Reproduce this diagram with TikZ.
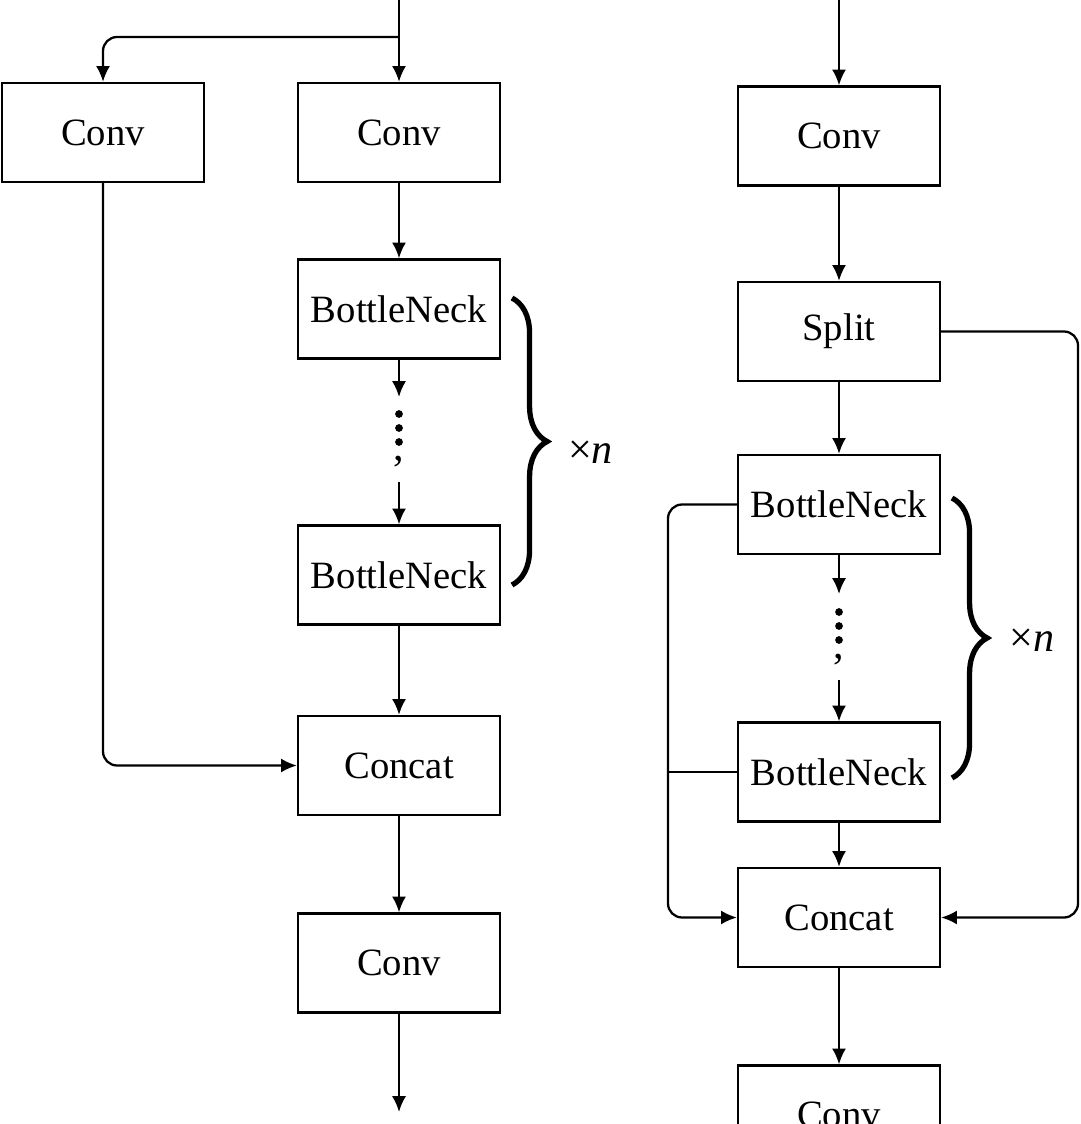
\documentclass[tikz,border=0pt]{standalone}
\usepackage{fontspec}
\setmainfont{Liberation Serif}
\usetikzlibrary{arrows.meta,decorations.pathreplacing}
\begin{document}
\begin{tikzpicture}[x=0.02cm,y=-0.02cm,
  box/.style={draw,line width=1.3pt,minimum width=4.04cm,minimum height=1.98cm,inner sep=0,font=\fontsize{22}{26}\selectfont},
  ar/.style={line width=1.3pt,-{Latex[length=9pt,width=8pt]},rounded corners=8pt},
  ln/.style={line width=1.3pt,rounded corners=8pt},
  br/.style={decorate,decoration={brace,amplitude=20pt},line width=3pt},
  lbl/.style={font=\fontsize{24}{28}\selectfont}]
\useasboundingbox (0,0) rectangle (1080,1124);
% left
\node[box] (lc1) at (103,132.5) {Conv};
\node[box] (lc2) at (399,132.5) {Conv};
\node[box] (lb1) at (399,309) {BottleNeck};
\node[box] (lb2) at (399,575) {BottleNeck};
\node[box] (lcat) at (399,765.5) {Concat};
\node[box] (lc3) at (399,963) {Conv};
\coordinate (lin) at (399,0);
\coordinate (lout) at (399,1112);
\coordinate (lsp) at (399,37);
\draw[ar] (lin) -- (lc2.north);
\draw[ar] (lsp) -| (lc1.north);
\draw[ar] (lc1.south) |- (lcat.west);
\draw[ar] (lc2.south) -- (lb1.north);
\coordinate (ld1) at (399,397);
\coordinate (ld2) at (399,482);
\draw[ar] (lb1.south) -- (ld1);
\draw[ar] (ld2) -- (lb2.north);
\foreach \y in {414,428,442} \fill (399,\y) circle (2.2pt);
\node[lbl] (lcm) at (399,462) {,};
\draw[ar] (lb2.south) -- (lcat.north);
\draw[ar] (lcat.south) -- (lc3.north);
\draw[ar] (lc3.south) -- (lout);
\draw[br] (512,298) -- (512,585);
\node[lbl,anchor=west] (ln1) at (562,452) {×\textit{n}};
% right
\node[box] (rc1) at (839,136) {Conv};
\node[box] (rs) at (839,331.5) {Split};
\node[box] (rb1) at (839,504.5) {BottleNeck};
\node[box] (rb2) at (839,772) {BottleNeck};
\node[box] (rcat) at (839,917.5) {Concat};
\node[box] (rc2) at (839,1115) {Conv};
\coordinate (rin) at (839,0);
\draw[ar] (rin) -- (rc1.north);
\draw[ar] (rc1.south) -- (rs.north);
\draw[ar] (rs.south) -- (rb1.north);
\coordinate (rd1) at (839,594);
\coordinate (rd2) at (839,680);
\draw[ar] (rb1.south) -- (rd1);
\draw[ar] (rd2) -- (rb2.north);
\foreach \y in {612,626,640} \fill (839,\y) circle (2.2pt);
\node[lbl] (rcm) at (839,660) {,};
\draw[ar] (rb2.south) -- (rcat.north);
\draw[ar] (rcat.south) -- (rc2.north);
\draw[ar] (rs.east) -- (1078,331.5) |- (rcat.east);
\draw[ar] (rb1.west) -- (668,504.5) |- (rcat.west);
\draw[ln] (rb2.west) -- ++(-70,0);
\draw[br] (952,498) -- (952,778);
\node[lbl,anchor=west] (rn1) at (1003,640) {×\textit{n}};
\end{tikzpicture}
\end{document}
